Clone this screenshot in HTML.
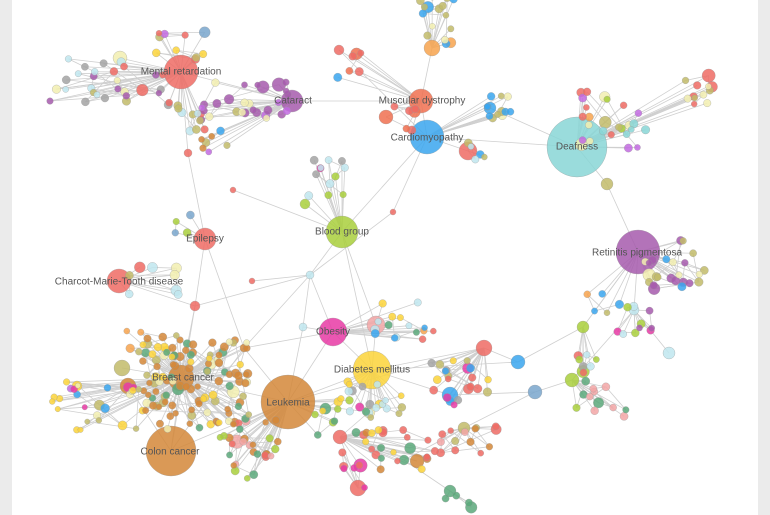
<!DOCTYPE html>
<html><head><meta charset="utf-8"><style>
html,body{margin:0;padding:0;background:#fff;}
#w{position:relative;width:770px;height:515px;overflow:hidden;background:#fff;}
.g{position:absolute;top:0;width:12px;height:515px;background:#ebebeb;}
svg{position:absolute;left:0;top:0}
text{font-family:"Liberation Sans",sans-serif;font-size:10px;fill:#555;text-anchor:middle;dominant-baseline:middle}
</style></head><body><div id="w">
<div class="g" style="left:0"></div><div class="g" style="left:758px"></div>
<svg id="s" width="770" height="515" viewBox="0 0 770 515">
<g id="E" stroke="#cfcfcf" stroke-width="0.8" fill="none"></g>
<g id="N" stroke="#999" stroke-width="0.5" stroke-opacity="0.6"></g>
<g id="L">
<text x="181" y="72">Mental retardation</text>
<text x="293" y="101">Cataract</text>
<text x="422" y="101">Muscular dystrophy</text>
<text x="427" y="138">Cardiomyopathy</text>
<text x="577" y="147">Deafness</text>
<text x="342" y="232">Blood group</text>
<text x="205" y="239">Epilepsy</text>
<text x="119" y="282">Charcot-Marie-Tooth disease</text>
<text x="637" y="253">Retinitis pigmentosa</text>
<text x="333" y="332">Obesity</text>
<text x="372" y="370">Diabetes mellitus</text>
<text x="288" y="403">Leukemia</text>
<text x="183" y="378">Breast cancer</text>
<text x="170" y="452">Colon cancer</text>
</g>
</svg>
<script>
var R='#ef6b64',O='#d38738',P='#a65aad',B='#3aa6ef',T='#88d6d6',G='#a9cf3c',M='#e83aa5',Y='#fbd33a',K='#c2bb6a',LB='#bfe6ef',LY='#f2efb0',GR='#5aa87a',GY='#a3a3a3',OR='#f7a34e',SB='#79a6cc',PK='#f2a6a6',VI='#c26ae0';
var hubs={
mr:[181,72,17,R],cat:[292,101,11,P],md:[421,101,12,'#f07050'],cm:[427,137,17,B],df:[577,147,30,T],
bg:[342,232,16,G],ep:[205,239,11,R],cmt:[119,281,12,R],rp:[638,252,22,P],ob:[333,332,14,M],
dm:[372,370,19,Y],lk:[288,402,27,O],bc:[181,378,13,O],cc:[171,451,25,O],
a1:[310,275,4,LB],a2:[244,348,4,O],a3:[195,306,5,R],a4:[188,153,4,R],a5:[432,48,8,OR],a6:[468,151,9,R],
a7:[607,184,6,K],a8:[484,348,8,R],a9:[518,362,7,B],a10:[535,392,7,SB],a11:[583,327,6,G],a12:[572,380,7,G],
a13:[669,353,6,LB],a14:[450,395,8,B],a15:[340,437,7,R],a16:[358,488,8,R],a17:[450,491,6,GR],a18:[376,325,9,PK],
a19:[369,412,6,LY],a20:[393,212,3,R],a21:[128,386,8,O],a22:[122,368,8,K],a23:[77,386,5,Y],a24:[120,58,7,LY],
a25:[386,117,7,'#f07050'],a26:[490,108,6,B],a27:[464,428,6,K],a28:[404,460,5,GR],a29:[305,204,5,G],a30:[303,327,4,LB],
a31:[252,281,3,R],a32:[634,310,5,LB],a33:[233,190,3,R],a34:[339,50,5,R]};
var edges=[['mr','cat'],['mr','a4'],['a4','ep'],['ep','a3'],['cmt','a3'],['a3','bc'],['a3','cc'],['a3','a1'],['a1','bg'],['a1','ob'],['a1','a2'],['a1','a30'],
['bg','cm'],['bg','dm'],['cm','md'],['md','a5'],['cm','df'],['cm','a6'],['cm','a26'],['a26','df'],['df','a7'],['a7','rp'],['cat','md'],['cm','a20'],['a20','a1'],
['a2','lk'],['a2','bc'],['a2','cc'],['a2','ob'],['ob','dm'],['dm','lk'],['lk','bc'],['lk','cc'],['bc','cc'],['dm','a8'],['a8','a9'],['a9','a11'],['a11','rp'],
['a8','a14'],['a14','a10'],['a10','a12'],['a12','a32'],['a32','rp'],['a13','a32'],['dm','a18'],['a18','bg'],['dm','a19'],['a19','lk'],['a19','a15'],['a15','a16'],
['a15','a28'],['a28','a17'],['a28','a27'],['a27','a10'],['ep','a2'],['a21','bc'],['a21','cc'],['a22','bc'],['a23','a21'],['mr','a24'],['md','a25'],['a25','cm'],
['lk','a30'],['a30','ob'],['a31','a1'],['a29','bg'],['a33','bg'],['a34','md'],['dm','a9'],['a8','lk'],['dm','a14'],['ob','lk'],['cm','a34']];
var s=7;function rnd(){s=(s*16807)%2147483647;return s/2147483647;}
var E=document.getElementById('E'),N=document.getElementById('N'),ns='http://www.w3.org/2000/svg';
function line(a,b){var l=document.createElementNS(ns,'line');l.setAttribute('x1',a[0]);l.setAttribute('y1',a[1]);l.setAttribute('x2',b[0]);l.setAttribute('y2',b[1]);E.appendChild(l);}
var circles=[];
function circ(n,op){circles.push([n[0],n[1],n[2],n[3],op]);}
edges.forEach(function(e){line(hubs[e[0]],hubs[e[1]]);});
var cl=[
['mr',110,80,60,25,30,[K,P,LY,GY,R,LB],4],['mr',180,45,25,15,10,[R,VI,SB,Y,K],4],['cat',245,100,45,20,28,[P,P,P,K,LY,VI],4],['mr',190,120,20,15,10,[R,K,LB],4],
['cat',215,140,15,12,7,[VI,O,K,B,OR],4],['a5',440,20,20,25,16,[OR,B,K,LY],4],['md',355,65,18,15,6,[R,'#f07050',B],4],['md',405,118,14,14,6,[R,LB,'#f07050'],4],
['cm',495,110,20,15,12,[B,LY,K],4],['a6',475,150,15,10,5,[LB,K,B],4],['df',615,120,35,30,26,[K,LY,OR,G,R,T,VI],4],['df',700,90,18,18,12,[LY,K,R],4],
['rp',675,265,30,25,24,[P,P,P,K,B,LY],4],['bg',325,180,20,20,12,[G,LB,M,GY],4],['ep',185,225,12,10,4,[G,SB,R],4],['cmt',145,280,35,15,8,[R,K,LY,LB],5],
['bc',195,385,55,45,110,[O,O,O,O,O,O,K,Y,GR,LY],4],['bc',95,405,45,25,26,[LY,Y,K,B,M,VI],3.5],['bc',150,340,30,12,12,[O,K,Y,OR],4],['lk',250,450,30,30,30,[O,O,G,GR,R,PK],4],
['ob',405,320,30,20,16,[R,GR,B,Y,LB,OR],4],['dm',375,400,30,20,20,[Y,M,K,LB,GR,VI,GY],4],['a8',460,385,30,25,22,[R,B,M,GY,Y,K],4],['a12',600,400,30,20,12,[G,GR,PK],4],
['a11',590,360,15,15,8,[G,R,LB,GY],4],['a32',635,320,20,15,10,[M,G,LB,P],4],['a27',470,440,30,15,14,[K,O,R,PK],4],['a15',395,450,40,20,26,[O,Y,GR,R],4],
['a16',350,470,15,20,6,[R,M],4],['a17',460,500,15,8,4,[GR],4],['lk',330,410,20,25,10,[G,GR,Y],4],['rp',600,300,20,20,5,[B,OR,K],4]];
cl.forEach(function(c){var h=hubs[c[0]];var pts=[];for(var i=0;i<c[5];i++){var x=c[1]+(rnd()*2-1)*c[3],y=c[2]+(rnd()*2-1)*c[4];var col=c[6][Math.floor(rnd()*c[6].length)];var r=c[7]*(0.75+rnd()*0.35);if(rnd()<0.05)r*=1.6;pts.push([x,y,r,col]);line(h,[x,y]);if(pts.length>1&&rnd()<0.6)line(pts[Math.floor(rnd()*(pts.length-1))],[x,y]);}pts.forEach(function(p){circ(p,0.85);});});
Object.keys(hubs).forEach(function(k){circ(hubs[k],0.85);});
circles.sort(function(a,b){return b[2]-a[2];});
circles.forEach(function(c){var e=document.createElementNS(ns,'circle');e.setAttribute('cx',c[0]);e.setAttribute('cy',c[1]);e.setAttribute('r',c[2]);e.setAttribute('fill',c[3]);e.setAttribute('fill-opacity',c[4]);N.appendChild(e);});
</script>
</div></body></html>
